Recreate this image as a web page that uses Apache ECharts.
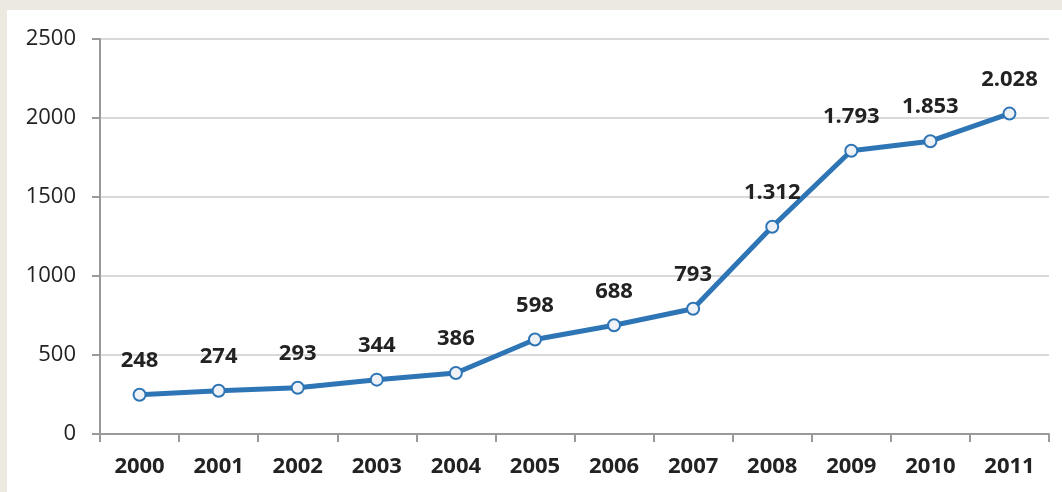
<!DOCTYPE html>
<html><head><meta charset="utf-8">
<script src="https://cdn.jsdelivr.net/npm/echarts@6/dist/echarts.min.js"></script>
<style>
html,body{margin:0;padding:0;background:#ECE9E0;}
#wrap{position:absolute;left:7px;top:10px;width:1055px;height:482px;background:#fff;}
#c{position:absolute;left:0;top:0;width:1062px;height:492px;}
</style></head>
<body><div id="wrap"></div><div id="c"></div>
<script>
const categories = ['2000','2001','2002','2003','2004','2005','2006','2007','2008','2009','2010','2011'];
const values = [248,274,293,344,386,598,688,793,1312,1793,1853,2028];
const yTicks = [0,500,1000,1500,2000,2500];

function fmt(v){
  return String(v).replace(/\B(?=(\d{3})+(?!\d))/g,'.');
}
const chart = echarts.init(document.getElementById('c'), null, {renderer:'canvas'});
chart.setOption({
  backgroundColor:'transparent',
  animation:false,
  grid:{left:100,right:13,top:39,bottom:58,containLabel:false},
  xAxis:{
    type:'category',data:categories,boundaryGap:true,
    axisLine:{lineStyle:{color:'#9a9a9a',width:2}},
    axisTick:{show:true,length:8,lineStyle:{color:'#9a9a9a',width:2},alignWithLabel:false},
    axisLabel:{margin:22,color:'#222',fontSize:22,fontWeight:'bold',fontFamily:'Open Sans'},
    splitLine:{show:false}
  },
  yAxis:{
    type:'value',min:yTicks[0],max:yTicks[yTicks.length-1],interval:500,
    axisLine:{show:true,lineStyle:{color:'#9a9a9a',width:2}},
    axisTick:{show:true,length:8,lineStyle:{color:'#9a9a9a',width:2}},
    axisLabel:{margin:24,color:'#222',fontSize:22,fontFamily:'Open Sans',formatter:v=>String(v)},
    splitLine:{show:true,lineStyle:{color:'#d9d9d9',width:2}}
  },
  series:[{
    type:'line',data:values,
    lineStyle:{color:'#2E75B6',width:5},
    symbol:'circle',symbolSize:12,
    itemStyle:{color:'#EEF2F7',borderColor:'#2E75B6',borderWidth:2},
    label:{show:true,position:'top',distance:16,color:'#222',fontSize:22,fontWeight:'bold',fontFamily:'Open Sans',
      formatter:p=>fmt(p.value)}
  }]
});
</script></body></html>
